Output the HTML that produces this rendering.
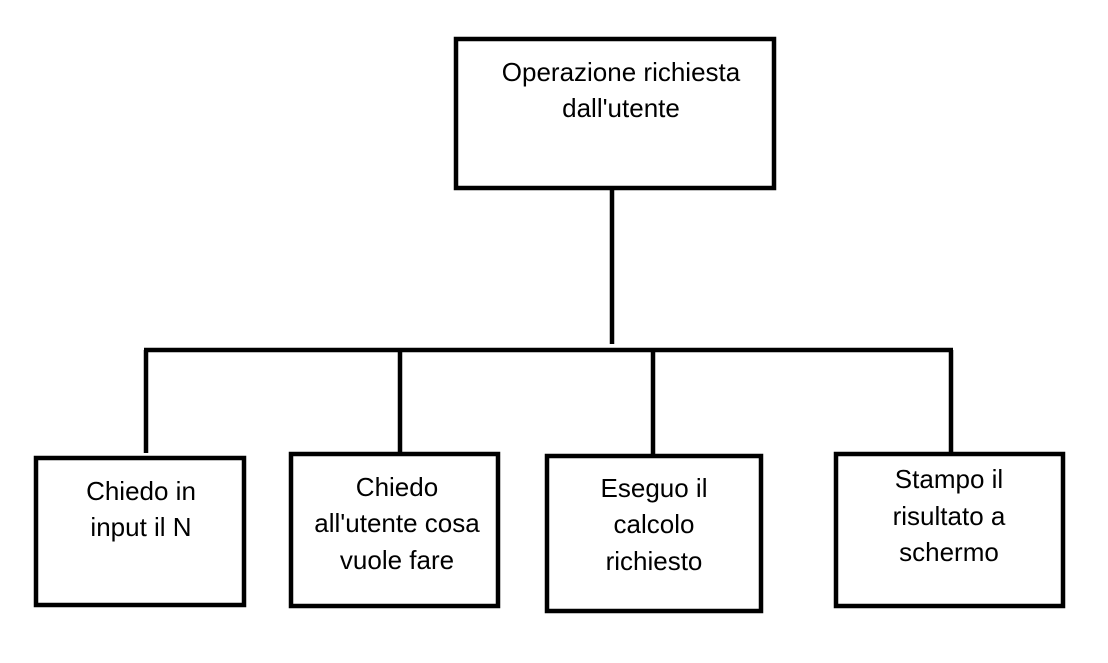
<!DOCTYPE html>
<html><head><style>
body{margin:0;background:#fff;}
svg text{font-family:"Liberation Sans",sans-serif;font-size:26px;fill:#000;text-anchor:middle;}
</style></head><body>
<svg width="1108" height="658" viewBox="0 0 1108 658" xmlns="http://www.w3.org/2000/svg">
<g fill="none" stroke="#000" stroke-width="4.5">
<rect x="456" y="39" width="318" height="149"/>
<line x1="612" y1="188" x2="612" y2="344"/>
<line x1="144" y1="350" x2="953" y2="350"/>
<line x1="146" y1="350" x2="146" y2="453"/>
<line x1="400" y1="350" x2="400" y2="453"/>
<line x1="653" y1="350" x2="653" y2="455"/>
<line x1="951" y1="350" x2="951" y2="453"/>
<rect x="36" y="458" width="208" height="147"/>
<rect x="291" y="454" width="207" height="152"/>
<rect x="547" y="456" width="214" height="155"/>
<rect x="836" y="454" width="227" height="152"/>
</g>
<text x="621" y="81">Operazione richiesta</text>
<text x="621" y="117">dall'utente</text>
<text x="141" y="500">Chiedo in</text>
<text x="141" y="536">input il N</text>
<text x="397" y="496">Chiedo</text>
<text x="397" y="532">all'utente cosa</text>
<text x="397" y="569">vuole fare</text>
<text x="654" y="497">Eseguo il</text>
<text x="654" y="533">calcolo</text>
<text x="654" y="570">richiesto</text>
<text x="949" y="488">Stampo il</text>
<text x="949" y="525">risultato a</text>
<text x="949" y="561">schermo</text>
</svg>
</body></html>
